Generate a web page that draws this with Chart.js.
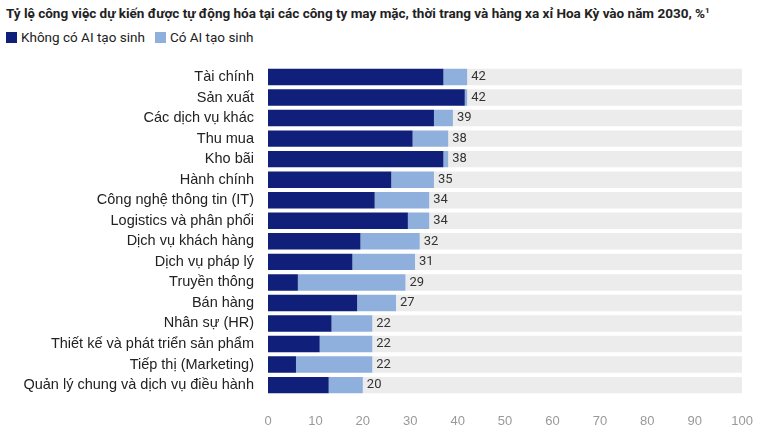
<!DOCTYPE html>
<html><head><meta charset="utf-8">
<script src="https://cdn.jsdelivr.net/npm/chart.js@4"></script>
<style>
body{margin:0;background:#fff;font-family:Roboto,"Noto Sans",sans-serif;}
#title{position:absolute;left:6px;top:5px;font-size:13.5px;font-weight:bold;color:#222;}
#legend{position:absolute;left:6px;top:29px;font-size:13.5px;color:#222;}
.sw{display:inline-block;width:11px;height:11px;vertical-align:-1px;margin-right:4px;}
#wrap{position:absolute;left:0;top:52px;width:763px;height:387px;}
</style></head><body>
<div id="title">Tỷ lệ công việc dự kiến được tự động hóa tại các công ty may mặc, thời trang và hàng xa xỉ Hoa Kỳ vào năm 2030, %<sup style="font-size:8px">1</sup></div>
<div id="legend"><span class="sw" style="background:#0f1f7a"></span>Không có AI tạo sinh&nbsp;&nbsp;&nbsp;<span class="sw" style="background:#8fb0dc"></span>Có AI tạo sinh</div>
<div id="wrap"><canvas id="c"></canvas></div>
<script>
const categories = ["Tài chính","Sản xuất","Các dịch vụ khác","Thu mua","Kho bãi","Hành chính","Công nghệ thông tin (IT)","Logistics và phân phối","Dịch vụ khách hàng","Dịch vụ pháp lý","Truyền thông","Bán hàng","Nhân sự (HR)","Thiết kế và phát triển sản phẩm","Tiếp thị (Marketing)","Quản lý chung và dịch vụ điều hành"];
const withoutAI = [37,41.5,35,30.5,37,26,22.5,29.5,19.5,17.8,6.3,18.8,13.4,10.9,5.9,12.8];
const totals = [42,42,39,38,38,35,34,34,32,31,29,27,22,22,22,20];
const xTicks = [0,10,20,30,40,50,60,70,80,90,100];

const genAI = totals.map((t,i)=>t-withoutAI[i]);
const rest = totals.map(t=>100-t);

const labelPlugin = {
  id:'totals',
  afterDatasetsDraw(chart){
    const ctx = chart.ctx, meta = chart.getDatasetMeta(1);
    ctx.save();
    ctx.font = '13px Roboto, sans-serif';
    ctx.fillStyle = '#333';
    ctx.textBaseline = 'middle';
    meta.data.forEach((bar,i)=>{
      ctx.fillText(totals[i], bar.x + 4, bar.y);
    });
    ctx.restore();
  }
};

new Chart(document.getElementById('c'), {
  type:'bar',
  data:{
    labels:categories,
    datasets:[
      {data:withoutAI, backgroundColor:'#0f1f7a', barPercentage:0.8, categoryPercentage:1},
      {data:genAI, backgroundColor:'#8fb0dc', barPercentage:0.8, categoryPercentage:1},
      {data:rest, backgroundColor:'#ececec', barPercentage:0.8, categoryPercentage:1}
    ]
  },
  options:{
    indexAxis:'y',
    responsive:true, maintainAspectRatio:false, animation:false,
    layout:{padding:{left:4,right:8,top:6,bottom:0}},
    plugins:{legend:{display:false}, tooltip:{enabled:false}},
    scales:{
      x:{stacked:true, min:0, max:100,
         afterBuildTicks(ax){ ax.ticks = xTicks.map(v=>({value:v})); },
         grid:{display:false}, border:{display:false},
         ticks:{color:'#999', font:{size:13}, padding:10}},
      y:{stacked:true, grid:{display:false}, border:{display:false},
         afterFit(ax){ ax.width = 264; },
         ticks:{color:'#222', font:{size:14.5}, padding:6, autoSkip:false}}
    }
  },
  plugins:[labelPlugin]
});
</script>
</body></html>
